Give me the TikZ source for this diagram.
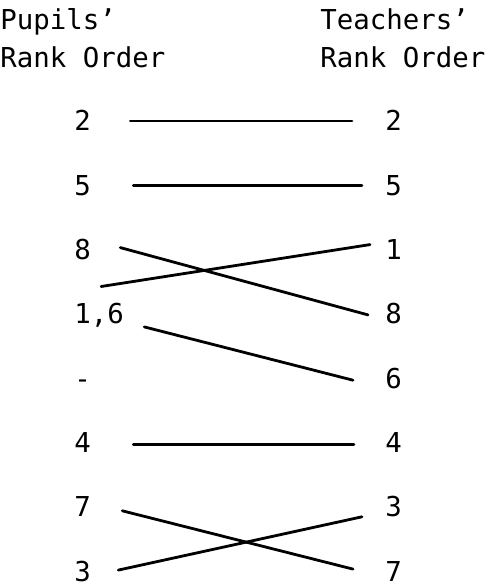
\documentclass[tikz,border=0pt]{standalone}
\usepackage{fontspec}
\newfontfamily\rankfont{DejaVu Sans Mono}
\usetikzlibrary{arrows.meta}

\begin{document}
\begin{tikzpicture}[x=0.5pt, y=-0.5pt,
        rank/.style={font=\rankfont\fontsize{13.7}{16}\selectfont, inner sep=0pt,
                     text height=10pt, text depth=0pt, anchor=west},
        head/.style={font=\rankfont\fontsize{13.7}{16}\selectfont, inner sep=0pt, anchor=base west},
        link/.style={line width=1.4pt, line cap=round}]
        \useasboundingbox (0,0) rectangle (485,588);

        % column headings
        \node[head] (pupA) at (0,30) {Pupils’};
        \node[head] (pupB) at (0,68) {Rank Order};
        \node[head] (teaA) at (320,30) {Teachers’};
        \node[head] (teaB) at (320,68) {Rank Order};

        % the two rank columns
        \foreach \lab [count=\i] in {2,5,8,{1,6},-,4,7,3}
            \node[rank] (p\i) at (74,{121+64.3*(\i-1)}) {\lab};
        \foreach \lab [count=\i] in {2,5,1,8,6,4,3,7}
            \node[rank] (t\i) at (385,{121+64.3*(\i-1)}) {\lab};

        % links between the orders
        \draw[link] ([shift={(39,0)}]p1.east) -- ([shift={(-33,0)}]t1.west);
        \draw[link] ([shift={(42,0)}]p2.east) -- ([shift={(-23,0)}]t2.west);
        \draw[link] ([shift={(29,-2)}]p3.east) -- ([shift={(-17,1)}]t4.west);
        \draw[link] ([shift={(2,-17)}]p4.north) -- ([shift={(-15,-5)}]t3.west);
        \draw[link] ([shift={(20,13)}]p4.east) -- ([shift={(-32,2)}]t5.west);
        \draw[link] ([shift={(42,2)}]p6.east) -- ([shift={(-31,2)}]t6.west);
        \draw[link] ([shift={(31,4)}]p7.east) -- ([shift={(-32,-2)}]t8.west);
        \draw[link] ([shift={(27,-1)}]p8.east) -- ([shift={(-23,10)}]t7.west);
    \end{tikzpicture}
\end{document}
